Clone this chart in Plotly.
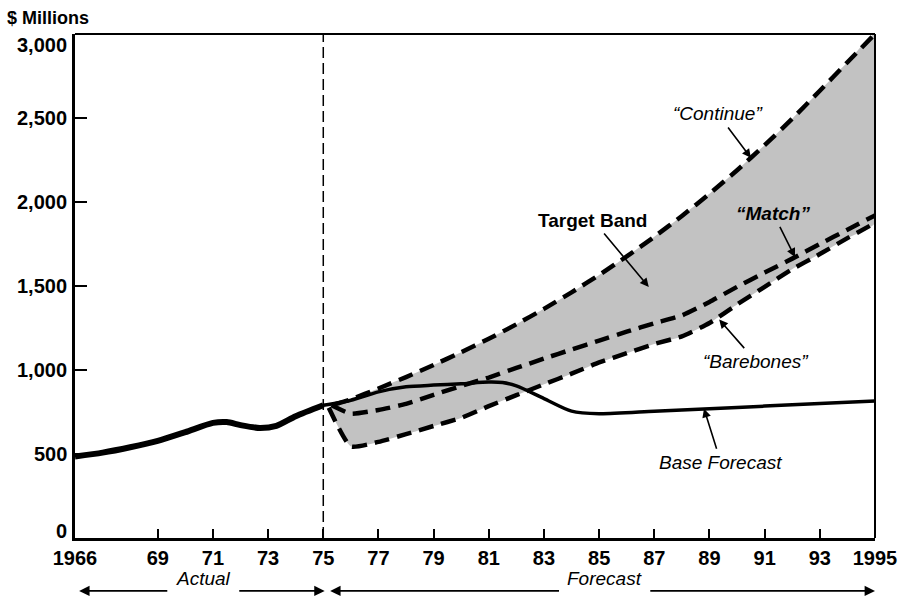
import plotly.graph_objects as go

# Historical spending, $ millions
actual_years = [1966, 1967, 1968, 1969, 1970, 1971, 1971.5, 1972, 1972.7, 1973.3, 1974, 1975]
actual_vals = [485, 508, 540, 578, 630, 685, 690, 672, 655, 668, 725, 790]

# Base forecast
base_years = [1975, 1976, 1977, 1978, 1979, 1980, 1981, 1981.5, 1982, 1983, 1984, 1985,
              1987, 1989, 1991, 1993, 1995]
base_vals = [790, 820, 870, 900, 910, 918, 928, 925, 905, 830, 755, 740,
             755, 770, 785, 800, 815]

# Target band scenarios
continue_years = [1975.4, 1976, 1977, 1978, 1979, 1980, 1981, 1982, 1983, 1984, 1985,
                  1986, 1987, 1988, 1989, 1990, 1991, 1992, 1993, 1994, 1995]
continue_vals = [795, 825, 890, 958, 1030, 1106, 1186, 1272, 1364, 1462, 1566,
                 1676, 1793, 1917, 2049, 2189, 2338, 2496, 2662, 2832, 3000]

match_years = [1975.3, 1976, 1977, 1978, 1979, 1980, 1981, 1982, 1983, 1984, 1985,
               1986, 1987, 1988, 1989, 1990, 1991, 1992, 1993, 1994, 1995]
match_vals = [790, 740, 762, 798, 852, 905, 955, 1012, 1068, 1122, 1175,
              1228, 1278, 1325, 1405, 1495, 1580, 1663, 1750, 1835, 1920]

barebones_years = [1975.2, 1976, 1977, 1978, 1979, 1980, 1981, 1982, 1983, 1984, 1985,
                   1986, 1987, 1988, 1989, 1990, 1991, 1992, 1993, 1994, 1995]
barebones_vals = [775, 545, 572, 618, 667, 715, 785, 850, 915, 978, 1045,
                  1100, 1155, 1200, 1280, 1390, 1495, 1600, 1690, 1785, 1875]

x_tickvals = [1966, 1969, 1971, 1973, 1975, 1977, 1979, 1981, 1983, 1985, 1987,
              1989, 1991, 1993, 1995]
x_ticktext = ["1966", "69", "71", "73", "75", "77", "79", "81", "83", "85", "87",
              "89", "91", "93", "1995"]
y_tickvals = [0, 500, 1000, 1500, 2000, 2500, 3000]
y_ticktext = ["0", "500", "1,000", "1,500", "2,000", "2,500", "3,000"]

FONT = "Liberation Sans, Arial, sans-serif"
DASH = "15px,8px"

fig = go.Figure()

# shaded target band between "Continue" and "Barebones"
fig.add_trace(go.Scatter(
    x=continue_years + barebones_years[::-1],
    y=continue_vals + barebones_vals[::-1],
    fill="toself", fillcolor="#c2c2c2",
    line=dict(width=0, shape="spline", smoothing=0.5),
    mode="lines", hoverinfo="skip", showlegend=False))

for xs, ys in [(continue_years, continue_vals), (match_years, match_vals),
               (barebones_years, barebones_vals)]:
    fig.add_trace(go.Scatter(
        x=xs, y=ys, mode="lines",
        line=dict(color="black", width=4.5, dash=DASH, shape="spline", smoothing=0.5),
        showlegend=False))

fig.add_trace(go.Scatter(
    x=base_years, y=base_vals, mode="lines",
    line=dict(color="black", width=3.5, shape="spline", smoothing=0.7),
    showlegend=False))

fig.add_trace(go.Scatter(
    x=actual_years, y=actual_vals, mode="lines",
    line=dict(color="black", width=6, shape="spline", smoothing=0.7),
    showlegend=False))

# divider between actual and forecast
fig.add_shape(type="line", x0=1975, x1=1975, y0=0, y1=3000, xref="x", yref="y",
              line=dict(color="black", width=1.5, dash="11px,5px"))

# thinner top and right frame
fig.add_shape(type="line", x0=0, x1=1, y0=1, y1=1, xref="paper", yref="paper",
              line=dict(color="black", width=2))
fig.add_shape(type="line", x0=1, x1=1, y0=0, y1=1, xref="paper", yref="paper",
              line=dict(color="black", width=2))

label_font = dict(family=FONT, size=19, color="black")


def callout(text, x, y, ax, ay):
    fig.add_annotation(x=x, y=y, ax=ax, ay=ay, text=text, showarrow=True,
                       arrowhead=2, arrowsize=1.1, arrowwidth=1.6, arrowcolor="black",
                       standoff=0, startstandoff=2, font=label_font)


callout("<i>\u201cContinue\u201d</i>", 1990.5, 2263, -33, -44)
callout("<b><i>\u201cMatch\u201d</i></b>", 1992.1, 1672, -22, -44)
callout("<b>Target Band</b>", 1986.8, 1494, -56, -67)
callout("<i>\u201cBarebones\u201d</i>", 1989.35, 1300, 37, 42)
callout("<i>Base Forecast</i>", 1988.8, 770, 17, 54)

# period arrows under the axis
ypos = -0.105


def period_arrow(x_head, x_tail):
    fig.add_annotation(x=x_head, y=ypos, xref="x", yref="paper",
                       ax=x_tail, ay=0, axref="x", ayref="pixel",
                       text="", showarrow=True, arrowhead=2, arrowsize=1.3,
                       arrowwidth=1.6, arrowcolor="black", standoff=0)


period_arrow(1966.15, 1969.4)
period_arrow(1975.05, 1971.9)
period_arrow(1975.25, 1983.6)
period_arrow(1995.0, 1986.8)
fig.add_annotation(x=1970.65, y=ypos, xref="x", yref="paper", text="<i>Actual</i>",
                   showarrow=False, font=label_font)
fig.add_annotation(x=1985.2, y=ypos, xref="x", yref="paper", text="<i>Forecast</i>",
                   showarrow=False, font=label_font)

# value-axis labels; the end labels sit just inside the frame
for val, txt in zip(y_tickvals, y_ticktext):
    shift = -11 if val == y_tickvals[-1] else (7 if val == y_tickvals[0] else 0)
    fig.add_annotation(x=0, y=val, xref="paper", yref="y", xanchor="right",
                       yanchor="middle", text=f"<b>{txt}</b>", showarrow=False,
                       xshift=-6, yshift=shift,
                       font=dict(family=FONT, size=20, color="black"))

# axis unit label above the value axis
fig.add_annotation(x=-0.087, y=1, xref="paper", yref="paper", xanchor="left",
                   yanchor="bottom", text="<b>$ Millions</b>", showarrow=False,
                   font=dict(family=FONT, size=18, color="black"), yshift=4)

fig.update_xaxes(range=[1966, 1995], tickvals=x_tickvals, ticktext=x_ticktext,
                 ticks="inside", ticklen=9, tickwidth=2, tickcolor="black",
                 showline=True, linewidth=3, linecolor="black",
                 showgrid=False, zeroline=False,
                 tickfont=dict(family=FONT, size=20, color="black", weight="bold"))
fig.update_yaxes(range=[0, 3000], tickvals=y_tickvals, showticklabels=False,
                 ticks="inside", ticklen=12, tickwidth=2, tickcolor="black",
                 showline=True, linewidth=3, linecolor="black",
                 showgrid=False, zeroline=False)

fig.update_layout(width=909, height=607, plot_bgcolor="white", paper_bgcolor="white",
                  margin=dict(l=75, r=29, t=34, b=69), showlegend=False)

fig.write_html("out.html")
